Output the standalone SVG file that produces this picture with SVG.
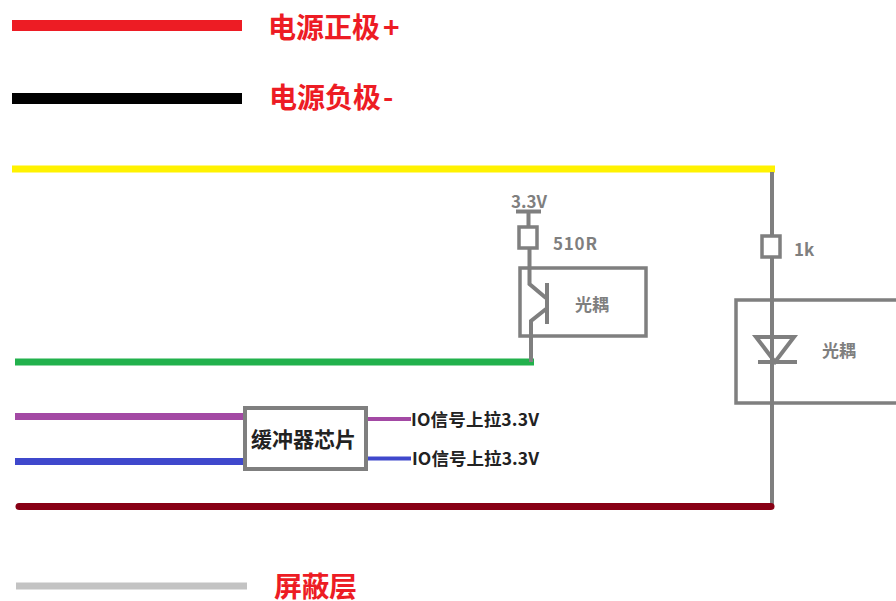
<svg xmlns="http://www.w3.org/2000/svg" width="896" height="601" viewBox="0 0 896 601">
<style>
text{font-family:"Noto Sans CJK SC","Liberation Sans",sans-serif;font-weight:700}
.legend{fill:#ed1c24;font-size:28px}
.io{fill:#222;font-size:17.500px}
.g{fill:#7f7f7f;font-size:17px}
.s{fill:none;stroke:#7f7f7f;stroke-width:4}
.box{fill:none;stroke:#7f7f7f;stroke-width:3.500}
</style>
<rect width="896" height="601" fill="#fff"/>
<g id="connectors" fill="none">
<path d="M12 25.500H242" stroke="#ed1c24" stroke-width="11"/>
<path d="M12 98.500H242" stroke="#000" stroke-width="11"/>
<path d="M12 169H775" stroke="#fff200" stroke-width="7"/>
<path d="M15 362H534" stroke="#22b14c" stroke-width="7"/>
<path d="M15 416.500H245" stroke="#a349a4" stroke-width="7"/>
<path d="M15 461.500H245" stroke="#3f48cc" stroke-width="7"/>
<path d="M367 419H411" stroke="#a349a4" stroke-width="4"/>
<path d="M367 458.500H411" stroke="#3f48cc" stroke-width="4"/>
<path d="M772 172V506" class="s"/>
<path d="M19 506.500H771" stroke="#880015" stroke-width="7" stroke-linecap="round"/>
<path d="M16 586H247" stroke="#c3c3c3" stroke-width="7"/>
<path d="M516 211.500H541M528.500 211.500V227M529.500 248V284L546 298M547 283V324M546 309L531 321V362" class="s"/>
</g>
<g id="legend-positive"><text class="legend" x="268" y="38">电源正极<tspan dx="3">+</tspan></text></g>
<g id="legend-negative"><text class="legend" x="269" y="108">电源负极<tspan dx="2">-</tspan></text></g>
<g id="legend-shield"><text class="legend" x="274" y="597" textLength="83">屏蔽层</text></g>
<g id="supply-33v"><text class="g" x="511" y="208">3.3V</text></g>
<g id="resistor-510r">
<rect x="519" y="227" width="18" height="21" fill="#fff" stroke="#7f7f7f" stroke-width="3.500"/>
<text class="g" x="553" y="250" textLength="44">510R</text>
</g>
<g id="optocoupler-left">
<rect x="520" y="268" width="126" height="68" class="box"/>
<text class="g" x="575" y="311">光耦</text>
</g>
<g id="resistor-1k">
<rect x="762" y="236" width="18" height="21" fill="#fff" stroke="#7f7f7f" stroke-width="3.500"/>
<text class="g" x="794" y="256">1k</text>
</g>
<g id="optocoupler-right">
<rect x="736" y="300" width="175" height="103" class="box"/>
<path d="M756 337H794L775 362ZM758 362H797" class="s"/>
<text class="g" x="822" y="357">光耦</text>
</g>
<g id="buffer-chip">
<rect x="245" y="408" width="121" height="61" fill="#fff" stroke="#7f7f7f" stroke-width="4"/>
<text x="251" y="447" font-size="21" fill="#222" textLength="105">缓冲器芯片</text>
</g>
<g id="io-label-1"><text class="io" x="411" y="426" textLength="128">IO信号上拉3.3V</text></g>
<g id="io-label-2"><text class="io" x="412" y="465" textLength="127">IO信号上拉3.3V</text></g>
</svg>
